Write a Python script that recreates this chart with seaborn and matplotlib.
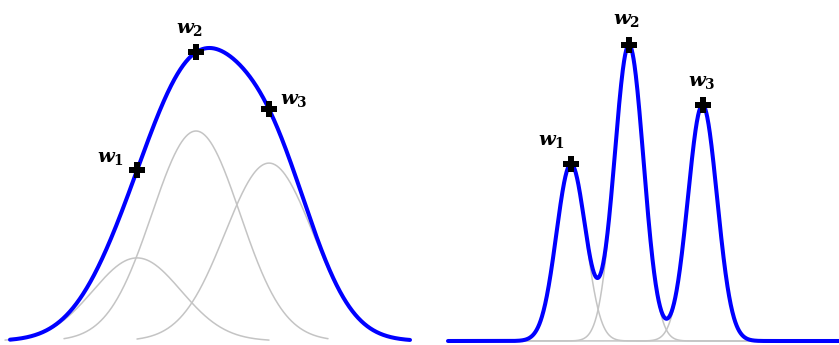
import numpy as np
import pandas as pd
import matplotlib
matplotlib.use("Agg")
import matplotlib.pyplot as plt
import seaborn as sns

# ---- data: Gaussian kernel components (means, heights, width) ----
left_means = [1.37, 1.96, 2.69]
left_heights = [0.277, 0.700, 0.593]
left_sigma = 0.44
left_range = [0.10, 4.10]

right_means = [5.71, 6.29, 7.025]
right_heights = [0.590, 0.987, 0.787]
right_sigma = 0.146
right_range = [4.48, 8.39]

labels = ["$w_1$", "$w_2$", "$w_3$"]

# ---- style ----
sns.set_theme(style="white")
plt.rcParams["mathtext.fontset"] = "custom"
plt.rcParams["mathtext.it"] = "DejaVu Serif:italic:bold"
plt.rcParams["mathtext.rm"] = "DejaVu Serif:bold"
plt.rcParams["mathtext.bf"] = "DejaVu Serif:bold"

BLUE = "#0000ff"
GRAY = "#c4c4c4"


def gauss(x, m, h, s):
    return h * np.exp(-((x - m) ** 2) / (2 * s ** 2))


fig = plt.figure(figsize=(8.39, 3.45), dpi=100)
ax_l = fig.add_axes([0, 0, 420 / 839, 1])
ax_r = fig.add_axes([420 / 839, 0, 419 / 839, 1])

ybot = -4 / 300
ytop = 341 / 300


def draw_panel(ax, means, heights, sigma, xr, gray_full, label_offsets):
    xs = np.linspace(xr[0], xr[1], 1200)
    total = np.zeros_like(xs)
    for m, h in zip(means, heights):
        if gray_full:
            gx = xs
        else:
            gx = np.linspace(m - 3 * sigma, m + 3 * sigma, 400)
        gy = gauss(gx, m, h, sigma)
        sns.lineplot(x=gx, y=gy, ax=ax, color=GRAY, linewidth=1.1, zorder=1)
        total += gauss(xs, m, h, sigma)
    sns.lineplot(x=xs, y=total, ax=ax, color=BLUE, linewidth=2.9, zorder=3)

    ym = [sum(gauss(m, mm, hh, sigma) for mm, hh in zip(means, heights)) for m in means]
    sns.scatterplot(x=means, y=ym, ax=ax, marker="P", s=120, color="black",
                    linewidth=0, zorder=5)
    for m, y, lab, off in zip(means, ym, labels, label_offsets):
        ax.annotate(lab, xy=(m, y), xytext=off, textcoords="offset pixels",
                    ha="center", va="center", fontsize=14, color="black", zorder=6)


draw_panel(ax_l, left_means, left_heights, left_sigma, left_range, False,
           [(-27, 13), (-6, 24), (25, 10)])
draw_panel(ax_r, right_means, right_heights, right_sigma, right_range, True,
           [(-20, 23), (-2, 25), (-1, 23)])

ax_l.set_xlim(0, 4.20)
ax_r.set_xlim(4.20, 8.39)
for ax in (ax_l, ax_r):
    ax.set_ylim(ybot, ytop)
    ax.axis("off")

fig.savefig("out.png", dpi=100)
